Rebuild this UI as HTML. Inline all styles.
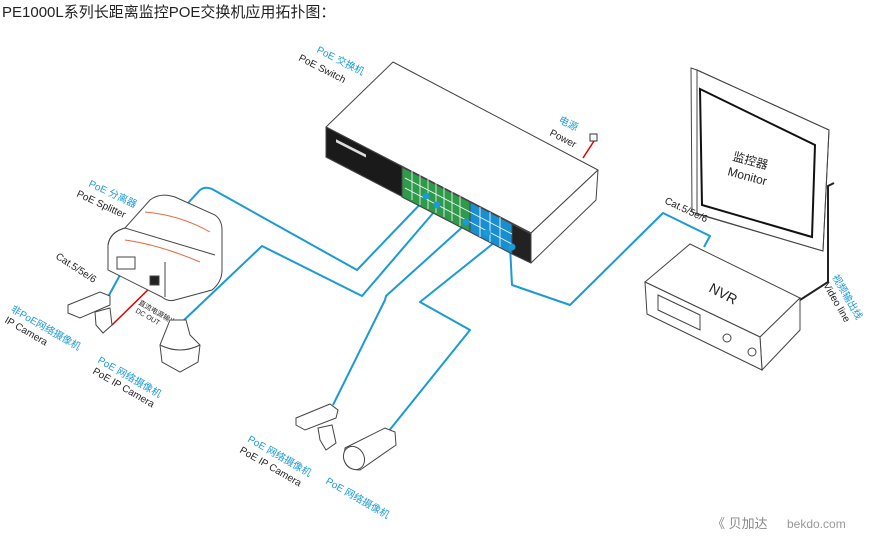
<!DOCTYPE html>
<html><head><meta charset="utf-8"><style>
html,body{margin:0;padding:0;background:#fff;width:890px;height:539px;overflow:hidden}
svg{display:block}
text{font-family:"Liberation Sans","Noto Sans CJK SC",sans-serif}
</style></head><body>
<svg width="890" height="539" viewBox="0 0 890 539" xmlns="http://www.w3.org/2000/svg">
<text x="2" y="17" font-size="15" fill="#222">PE1000L系列长距离监控POE交换机应用拓扑图：</text>

<!-- cables -->
<g fill="none" stroke="#1a9ad6" stroke-width="2" stroke-linejoin="round">
<path d="M188,203 L200,190 Q205,186 212,189 L357,270 L428,196"/>
<path d="M182,322 L262,246 L362,296 L440,205"/>
<path d="M333,405 L385,300 L386,296 L468,222"/>
<path d="M388,432 L470,330 L420,302 L500,238"/>
<path d="M510,246 L512,285 L570,305 L663,213 L710,236 L704,247"/>
<path d="M120,275 L108,297"/>
</g>
<path d="M155,283 L112,325" stroke="#d00" stroke-width="1.5" fill="none"/>
<path d="M583,158 L594,141" stroke="#d00" stroke-width="1.5" fill="none"/>
<rect x="590" y="134" width="7" height="7" fill="#fff" stroke="#333"/>
<path d="M800,300 L828,282 L828,186 L834,183" stroke="#222" stroke-width="2" fill="none"/>

<!-- switch -->
<g stroke="#444" stroke-width="1" stroke-linejoin="round">
<polygon points="326,127 393,62 598,170 531,233" fill="#fff"/>
<polygon points="531,233 598,170 596,200 531,263" fill="#fff"/>
<polygon points="326,127 531,233 531,263 326,157" fill="#fff"/>
<polygon points="326,127 405,168 405,198 326,157" fill="#1a1a1a"/>
<polygon points="402,167 470,202 470,232 402,197" fill="#2e9a4a"/>
<polygon points="470,202 512,224 512,254 470,232" fill="#1a8fd0"/>
<polygon points="512,224 531,234 531,263 512,254" fill="#222"/>
</g>
<g stroke="#fff" stroke-width="0.8" fill="none">
<path d="M405,178 L512,234 M405,188 L512,244"/>
<path d="M412,170 L412,200 M420,175 L420,205 M428,179 L428,209 M436,183 L436,213 M444,187 L444,217 M452,191 L452,221 M460,196 L460,226 M480,207 L480,237 M490,212 L490,242 M500,217 L500,247"/>
</g>
<rect x="336" y="146" width="30" height="3" fill="#ddd" transform="skewY(27) translate(0,-178)"/>
<g fill="#1a9ad6"><circle cx="426" cy="196" r="3.5"/><circle cx="437" cy="205" r="3.5"/><circle cx="466" cy="222" r="3.5"/><circle cx="487" cy="233" r="3.5"/><circle cx="512" cy="247" r="3.5"/></g>
<text transform="translate(316,52) rotate(27)" font-size="10" fill="#1a9ad6">PoE 交换机</text>
<text transform="translate(298,60) rotate(27)" font-size="10" fill="#222">PoE  Switch</text>
<text transform="translate(558,122) rotate(27)" font-size="10" fill="#1a9ad6">电源</text>
<text transform="translate(549,135) rotate(27)" font-size="10" fill="#222">Power</text>

<!-- splitter -->
<g stroke="#444" fill="#fff" stroke-width="1">
<path d="M150,200 Q160,192 175,197 L215,215 Q222,220 222,230 L222,270 Q222,282 212,290 L175,300 Q168,302 162,297 L108,270 L108,245 Q110,232 125,228 Z"/>
<path d="M108,245 Q110,232 125,228 L215,255 M165,297 L165,262" fill="none"/>
<rect x="117" y="257" width="18" height="12" fill="#fff"/>
<rect x="150" y="276" width="9" height="9" fill="#222"/>
</g>
<path d="M145,212 Q180,215 210,232 M125,240 Q160,245 200,262" stroke="#e86a3a" fill="none"/>
<text transform="translate(88,186) rotate(25)" font-size="10" fill="#1a9ad6">PoE 分离器</text>
<text transform="translate(76,196) rotate(25)" font-size="10" fill="#222">PoE Splitter</text>
<text transform="translate(55,258) rotate(33)" font-size="10" fill="#222">Cat.5/5e/6</text>
<text transform="translate(138,304) rotate(30)" font-size="7" fill="#222">直流电源输出</text>
<text transform="translate(135,312) rotate(30)" font-size="7" fill="#222">DC OUT</text>

<!-- cameras -->
<g stroke="#444" fill="#fff" stroke-width="1">
<path d="M68,305 L100,292 L110,296 L110,305 L80,318 L68,313 Z"/>
<path d="M95,312 L110,308 L112,325 L103,333 L96,325 Z"/>
<path d="M170,320 L186,320 L190,335 L200,345 L198,362 L180,372 L162,362 L160,345 Z"/>
<path d="M160,345 Q180,355 200,345" fill="none"/>
<path d="M296,418 L330,404 L338,410 L336,418 L305,430 L296,425 Z"/>
<path d="M318,428 L332,425 L336,443 L326,450 L320,440 Z"/>
<path d="M345,448 L385,428 L395,432 L396,445 L360,470 Q345,470 344,458 Z"/>
<ellipse cx="354" cy="458" rx="10" ry="12" transform="rotate(-30 354 458)"/>
</g>
<text transform="translate(10,311) rotate(30)" font-size="10" fill="#1a9ad6">非PoE网络摄像机</text>
<text transform="translate(4,322) rotate(30)" font-size="10" fill="#222">IP Camera</text>
<text transform="translate(97,362) rotate(30)" font-size="10" fill="#1a9ad6">PoE 网络摄像机</text>
<text transform="translate(92,373) rotate(30)" font-size="10" fill="#222">PoE IP Camera</text>
<text transform="translate(247,441) rotate(30)" font-size="10" fill="#1a9ad6">PoE 网络摄像机</text>
<text transform="translate(239,452) rotate(30)" font-size="10" fill="#222">PoE IP Camera</text>
<text transform="translate(325,483) rotate(30)" font-size="10" fill="#1a9ad6">PoE 网络摄像机</text>

<!-- monitor -->
<g stroke="#444" fill="#fff" stroke-width="1">
<polygon points="691,68 697,70 829,130 823,251 816,249 692,212"/>
<polygon points="697,70 829,130 823,251 697,214" fill="none"/>
<polygon points="700,89 815,145 812,237 702,205" stroke="#111" stroke-width="2"/>
</g>
<text transform="translate(732,160) rotate(15)" font-size="12" fill="#222">监控器</text>
<text transform="translate(727,175) rotate(15)" font-size="12" fill="#222">Monitor</text>

<!-- NVR -->
<g stroke="#444" fill="#fff" stroke-width="1">
<polygon points="645,282 690,244 800,298 760,337"/>
<polygon points="760,337 800,298 800,330 762,370"/>
<polygon points="645,282 760,337 762,370 647,314"/>
<polygon points="658,295 700,315 700,330 658,310" fill="none"/>
<circle cx="727" cy="338" r="4"/><circle cx="752" cy="352" r="4"/>
</g>
<text transform="translate(708,291) rotate(28)" font-size="14" fill="#222">NVR</text>
<text transform="translate(664,203) rotate(25)" font-size="10" fill="#222">Cat.5/5e/6</text>
<text transform="translate(832,277) rotate(60)" font-size="10" fill="#1a9ad6">视频输出线</text>
<text transform="translate(823,285) rotate(60)" font-size="10" fill="#222">Video line</text>

<text x="712" y="528" font-size="13" fill="#888">《 贝加达</text>
<text x="787" y="528" font-size="12" fill="#999">bekdo.com</text>
</svg>
</body></html>
